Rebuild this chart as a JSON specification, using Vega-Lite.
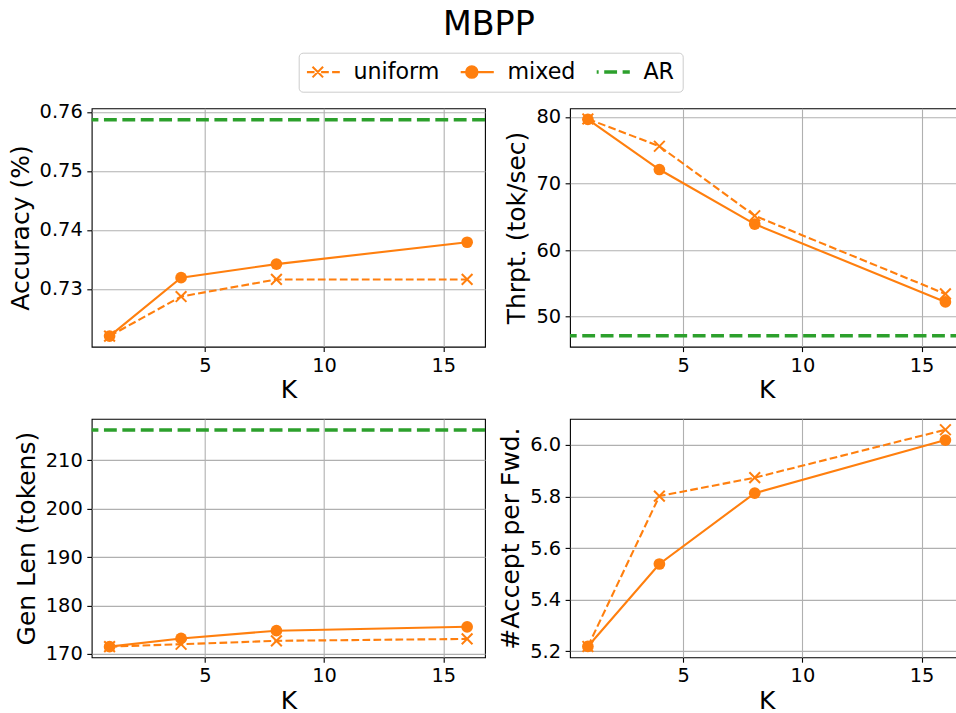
{
  "$schema": "https://vega.github.io/schema/vega-lite/v6.json",
  "autosize": {"type": "none"},
  "padding": {"left": 91.7, "top": 108.3, "right": 864.3, "bottom": 604.7},
  "background": "white",
  "title": {"text": "MBPP", "fontSize": 33.3, "font": "DejaVu Sans", "fontWeight": "normal", "color": "black", "anchor": "start", "align": "center", "dx": 481.3, "offset": 10},
  "datasets": {
    "series": [
      {"panel": "acc", "method": "uniform", "K": 1, "value": 0.722},
      {"panel": "acc", "method": "uniform", "K": 4, "value": 0.7287},
      {"panel": "acc", "method": "uniform", "K": 8, "value": 0.7316},
      {"panel": "acc", "method": "uniform", "K": 16, "value": 0.7316},
      {"panel": "acc", "method": "mixed", "K": 1, "value": 0.722},
      {"panel": "acc", "method": "mixed", "K": 4, "value": 0.7319},
      {"panel": "acc", "method": "mixed", "K": 8, "value": 0.7342},
      {"panel": "acc", "method": "mixed", "K": 16, "value": 0.7379},
      {"panel": "thr", "method": "uniform", "K": 1, "value": 79.7},
      {"panel": "thr", "method": "uniform", "K": 4, "value": 75.6},
      {"panel": "thr", "method": "uniform", "K": 8, "value": 65.15},
      {"panel": "thr", "method": "uniform", "K": 16, "value": 53.4},
      {"panel": "thr", "method": "mixed", "K": 1, "value": 79.65},
      {"panel": "thr", "method": "mixed", "K": 4, "value": 72.1},
      {"panel": "thr", "method": "mixed", "K": 8, "value": 63.9},
      {"panel": "thr", "method": "mixed", "K": 16, "value": 52.2},
      {"panel": "len", "method": "uniform", "K": 1, "value": 171.5},
      {"panel": "len", "method": "uniform", "K": 4, "value": 172.0},
      {"panel": "len", "method": "uniform", "K": 8, "value": 172.7},
      {"panel": "len", "method": "uniform", "K": 16, "value": 173.1},
      {"panel": "len", "method": "mixed", "K": 1, "value": 171.5},
      {"panel": "len", "method": "mixed", "K": 4, "value": 173.2},
      {"panel": "len", "method": "mixed", "K": 8, "value": 174.8},
      {"panel": "len", "method": "mixed", "K": 16, "value": 175.6},
      {"panel": "apf", "method": "uniform", "K": 1, "value": 5.218},
      {"panel": "apf", "method": "uniform", "K": 4, "value": 5.8016},
      {"panel": "apf", "method": "uniform", "K": 8, "value": 5.873},
      {"panel": "apf", "method": "uniform", "K": 16, "value": 6.059},
      {"panel": "apf", "method": "mixed", "K": 1, "value": 5.218},
      {"panel": "apf", "method": "mixed", "K": 4, "value": 5.538},
      {"panel": "apf", "method": "mixed", "K": 8, "value": 5.813},
      {"panel": "apf", "method": "mixed", "K": 16, "value": 6.019}
    ],
    "ar": [
      {"panel": "acc", "method": "AR", "value": 0.75865},
      {"panel": "thr", "method": "AR", "value": 47.1},
      {"panel": "len", "method": "AR", "value": 216.25}
    ]
  },
  "columns": 2,
  "spacing": {"row": 71.6, "column": 84.3},
  "bounds": "flush",
  "concat": [
    {
      "width": 393.3, "height": 238.4,
      "layer": [
        {"data": {"name": "series"}, "transform": [{"filter": "datum.panel === 'acc' && datum.method === 'uniform'"}],
         "mark": {"type": "line", "strokeDash": [7.7, 3.3], "strokeWidth": 2.1},
         "encoding": {
           "x": {"field": "K", "type": "quantitative", "scale": {"domain": [0.25, 16.75], "nice": false, "zero": false}, "axis": {"values": [5, 10, 15], "title": "K"}},
           "y": {"field": "value", "type": "quantitative", "scale": {"domain": [0.7202, 0.7606], "nice": false, "zero": false}, "axis": {"values": [0.73, 0.74, 0.75, 0.76], "format": ".2f", "title": "Accuracy (%)"}},
           "color": {"field": "method", "type": "nominal", "scale": {"domain": ["uniform", "mixed", "AR"], "range": ["#ff7f0e", "#ff7f0e", "#2ca02c"]},
             "legend": {"title": null, "encode": {"symbols": {"update": {
               "shape": {"signal": "datum.value === 'uniform' ? 'M-1,0H-0.65M-0.5,0H-0.15M0.15,0H0.5M0.65,0H1M-0.24,-0.24L0.24,0.24M-0.24,0.24L0.24,-0.24' : datum.value === 'mixed' ? 'M-1,0H1M0.26,0A0.26,0.26,0,1,1,-0.26,0A0.26,0.26,0,1,1,0.26,0Z' : 'M-1,0H-0.416M-0.163,0H0.421M0.674,0H1'"},
               "fill": {"signal": "datum.value === 'mixed' ? '#ff7f0e' : 'transparent'"},
               "stroke": {"signal": "datum.value === 'AR' ? '#2ca02c' : '#ff7f0e'"},
               "strokeWidth": {"signal": "datum.value === 'AR' ? 3.5 : 2.1"},
               "opacity": {"value": 1}
             }}}}}
         }},
        {"data": {"name": "series"}, "transform": [{"filter": "datum.panel === 'acc' && datum.method === 'uniform'"}],
         "mark": {"type": "point", "shape": "M-1,-1L1,1M-1,1L1,-1", "filled": false, "size": 115, "strokeWidth": 2, "opacity": 1},
         "encoding": {"x": {"field": "K", "type": "quantitative"}, "y": {"field": "value", "type": "quantitative"}, "color": {"field": "method", "type": "nominal"}}},
        {"data": {"name": "series"}, "transform": [{"filter": "datum.panel === 'acc' && datum.method === 'mixed'"}],
         "mark": {"type": "line", "strokeWidth": 2.1},
         "encoding": {"x": {"field": "K", "type": "quantitative"}, "y": {"field": "value", "type": "quantitative"}, "color": {"field": "method", "type": "nominal"}}},
        {"data": {"name": "series"}, "transform": [{"filter": "datum.panel === 'acc' && datum.method === 'mixed'"}],
         "mark": {"type": "point", "shape": "circle", "filled": true, "size": 137, "opacity": 1},
         "encoding": {"x": {"field": "K", "type": "quantitative"}, "y": {"field": "value", "type": "quantitative"}, "color": {"field": "method", "type": "nominal"}}},
        {"data": {"name": "ar"}, "transform": [{"filter": "datum.panel === 'acc'"}],
         "mark": {"type": "rule", "strokeDash": [12.85, 5.56], "strokeWidth": 3.5},
         "encoding": {"y": {"field": "value", "type": "quantitative"}, "color": {"field": "method", "type": "nominal"}}}
      ]
    },
    {
      "width": 393.3, "height": 238.4,
      "layer": [
        {"data": {"name": "series"}, "transform": [{"filter": "datum.panel === 'thr' && datum.method === 'uniform'"}],
         "mark": {"type": "line", "strokeDash": [7.7, 3.3], "strokeWidth": 2.1},
         "encoding": {
           "x": {"field": "K", "type": "quantitative", "scale": {"domain": [0.25, 16.75], "nice": false, "zero": false}, "axis": {"values": [5, 10, 15], "title": "K"}},
           "y": {"field": "value", "type": "quantitative", "scale": {"domain": [45.47, 81.3], "nice": false, "zero": false}, "axis": {"values": [50, 60, 70, 80], "format": "d", "title": "Thrpt. (tok/sec)"}},
           "color": {"field": "method", "type": "nominal"}
         }},
        {"data": {"name": "series"}, "transform": [{"filter": "datum.panel === 'thr' && datum.method === 'uniform'"}],
         "mark": {"type": "point", "shape": "M-1,-1L1,1M-1,1L1,-1", "filled": false, "size": 115, "strokeWidth": 2, "opacity": 1},
         "encoding": {"x": {"field": "K", "type": "quantitative"}, "y": {"field": "value", "type": "quantitative"}, "color": {"field": "method", "type": "nominal"}}},
        {"data": {"name": "series"}, "transform": [{"filter": "datum.panel === 'thr' && datum.method === 'mixed'"}],
         "mark": {"type": "line", "strokeWidth": 2.1},
         "encoding": {"x": {"field": "K", "type": "quantitative"}, "y": {"field": "value", "type": "quantitative"}, "color": {"field": "method", "type": "nominal"}}},
        {"data": {"name": "series"}, "transform": [{"filter": "datum.panel === 'thr' && datum.method === 'mixed'"}],
         "mark": {"type": "point", "shape": "circle", "filled": true, "size": 137, "opacity": 1},
         "encoding": {"x": {"field": "K", "type": "quantitative"}, "y": {"field": "value", "type": "quantitative"}, "color": {"field": "method", "type": "nominal"}}},
        {"data": {"name": "ar"}, "transform": [{"filter": "datum.panel === 'thr'"}],
         "mark": {"type": "rule", "strokeDash": [12.85, 5.56], "strokeWidth": 3.5},
         "encoding": {"y": {"field": "value", "type": "quantitative"}, "color": {"field": "method", "type": "nominal"}}}
      ]
    },
    {
      "width": 393.3, "height": 238.4,
      "layer": [
        {"data": {"name": "series"}, "transform": [{"filter": "datum.panel === 'len' && datum.method === 'uniform'"}],
         "mark": {"type": "line", "strokeDash": [7.7, 3.3], "strokeWidth": 2.1},
         "encoding": {
           "x": {"field": "K", "type": "quantitative", "scale": {"domain": [0.25, 16.75], "nice": false, "zero": false}, "axis": {"values": [5, 10, 15], "title": "K"}},
           "y": {"field": "value", "type": "quantitative", "scale": {"domain": [169.3, 218.55], "nice": false, "zero": false}, "axis": {"values": [170, 180, 190, 200, 210], "format": "d", "title": "Gen Len (tokens)"}},
           "color": {"field": "method", "type": "nominal"}
         }},
        {"data": {"name": "series"}, "transform": [{"filter": "datum.panel === 'len' && datum.method === 'uniform'"}],
         "mark": {"type": "point", "shape": "M-1,-1L1,1M-1,1L1,-1", "filled": false, "size": 115, "strokeWidth": 2, "opacity": 1},
         "encoding": {"x": {"field": "K", "type": "quantitative"}, "y": {"field": "value", "type": "quantitative"}, "color": {"field": "method", "type": "nominal"}}},
        {"data": {"name": "series"}, "transform": [{"filter": "datum.panel === 'len' && datum.method === 'mixed'"}],
         "mark": {"type": "line", "strokeWidth": 2.1},
         "encoding": {"x": {"field": "K", "type": "quantitative"}, "y": {"field": "value", "type": "quantitative"}, "color": {"field": "method", "type": "nominal"}}},
        {"data": {"name": "series"}, "transform": [{"filter": "datum.panel === 'len' && datum.method === 'mixed'"}],
         "mark": {"type": "point", "shape": "circle", "filled": true, "size": 137, "opacity": 1},
         "encoding": {"x": {"field": "K", "type": "quantitative"}, "y": {"field": "value", "type": "quantitative"}, "color": {"field": "method", "type": "nominal"}}},
        {"data": {"name": "ar"}, "transform": [{"filter": "datum.panel === 'len'"}],
         "mark": {"type": "rule", "strokeDash": [12.85, 5.56], "strokeWidth": 3.5},
         "encoding": {"y": {"field": "value", "type": "quantitative"}, "color": {"field": "method", "type": "nominal"}}}
      ]
    },
    {
      "width": 393.3, "height": 238.4,
      "layer": [
        {"data": {"name": "series"}, "transform": [{"filter": "datum.panel === 'apf' && datum.method === 'uniform'"}],
         "mark": {"type": "line", "strokeDash": [7.7, 3.3], "strokeWidth": 2.1},
         "encoding": {
           "x": {"field": "K", "type": "quantitative", "scale": {"domain": [0.25, 16.75], "nice": false, "zero": false}, "axis": {"values": [5, 10, 15], "title": "K"}},
           "y": {"field": "value", "type": "quantitative", "scale": {"domain": [5.176, 6.101], "nice": false, "zero": false}, "axis": {"values": [5.2, 5.4, 5.6, 5.8, 6.0], "format": ".1f", "title": "#Accept per Fwd."}},
           "color": {"field": "method", "type": "nominal"}
         }},
        {"data": {"name": "series"}, "transform": [{"filter": "datum.panel === 'apf' && datum.method === 'uniform'"}],
         "mark": {"type": "point", "shape": "M-1,-1L1,1M-1,1L1,-1", "filled": false, "size": 115, "strokeWidth": 2, "opacity": 1},
         "encoding": {"x": {"field": "K", "type": "quantitative"}, "y": {"field": "value", "type": "quantitative"}, "color": {"field": "method", "type": "nominal"}}},
        {"data": {"name": "series"}, "transform": [{"filter": "datum.panel === 'apf' && datum.method === 'mixed'"}],
         "mark": {"type": "line", "strokeWidth": 2.1},
         "encoding": {"x": {"field": "K", "type": "quantitative"}, "y": {"field": "value", "type": "quantitative"}, "color": {"field": "method", "type": "nominal"}}},
        {"data": {"name": "series"}, "transform": [{"filter": "datum.panel === 'apf' && datum.method === 'mixed'"}],
         "mark": {"type": "point", "shape": "circle", "filled": true, "size": 137, "opacity": 1},
         "encoding": {"x": {"field": "K", "type": "quantitative"}, "y": {"field": "value", "type": "quantitative"}, "color": {"field": "method", "type": "nominal"}}}
      ]
    }
  ],
  "config": {
    "font": "DejaVu Sans",
    "view": {"stroke": "black", "strokeWidth": 1.1},
    "axis": {"labelFont": "DejaVu Sans", "labelFontSize": 19.4, "labelColor": "black", "titleFont": "DejaVu Sans", "titleFontSize": 25, "titleFontWeight": "normal", "titleColor": "black", "tickColor": "black", "tickSize": 4.9, "tickWidth": 1.1, "gridColor": "#b0b0b0", "gridWidth": 1.1, "gridOpacity": 1, "domain": false, "labelPadding": 4.5, "labelFlush": false, "labelOverlap": false, "grid": true},
    "axisX": {"titlePadding": 3},
    "axisY": {"titlePadding": 6},
    "legend": {"orient": "none", "legendX": 207, "legendY": -55.6, "direction": "horizontal", "labelFont": "DejaVu Sans", "labelFontSize": 22.2, "labelColor": "black", "labelOffset": 24.5, "columnPadding": 21, "padding": 8, "clipHeight": 22, "strokeColor": "#cccccc", "fillColor": "white", "cornerRadius": 4, "symbolSize": 1936, "symbolStrokeWidth": 2.1, "labelLimit": 300}
  }
}
